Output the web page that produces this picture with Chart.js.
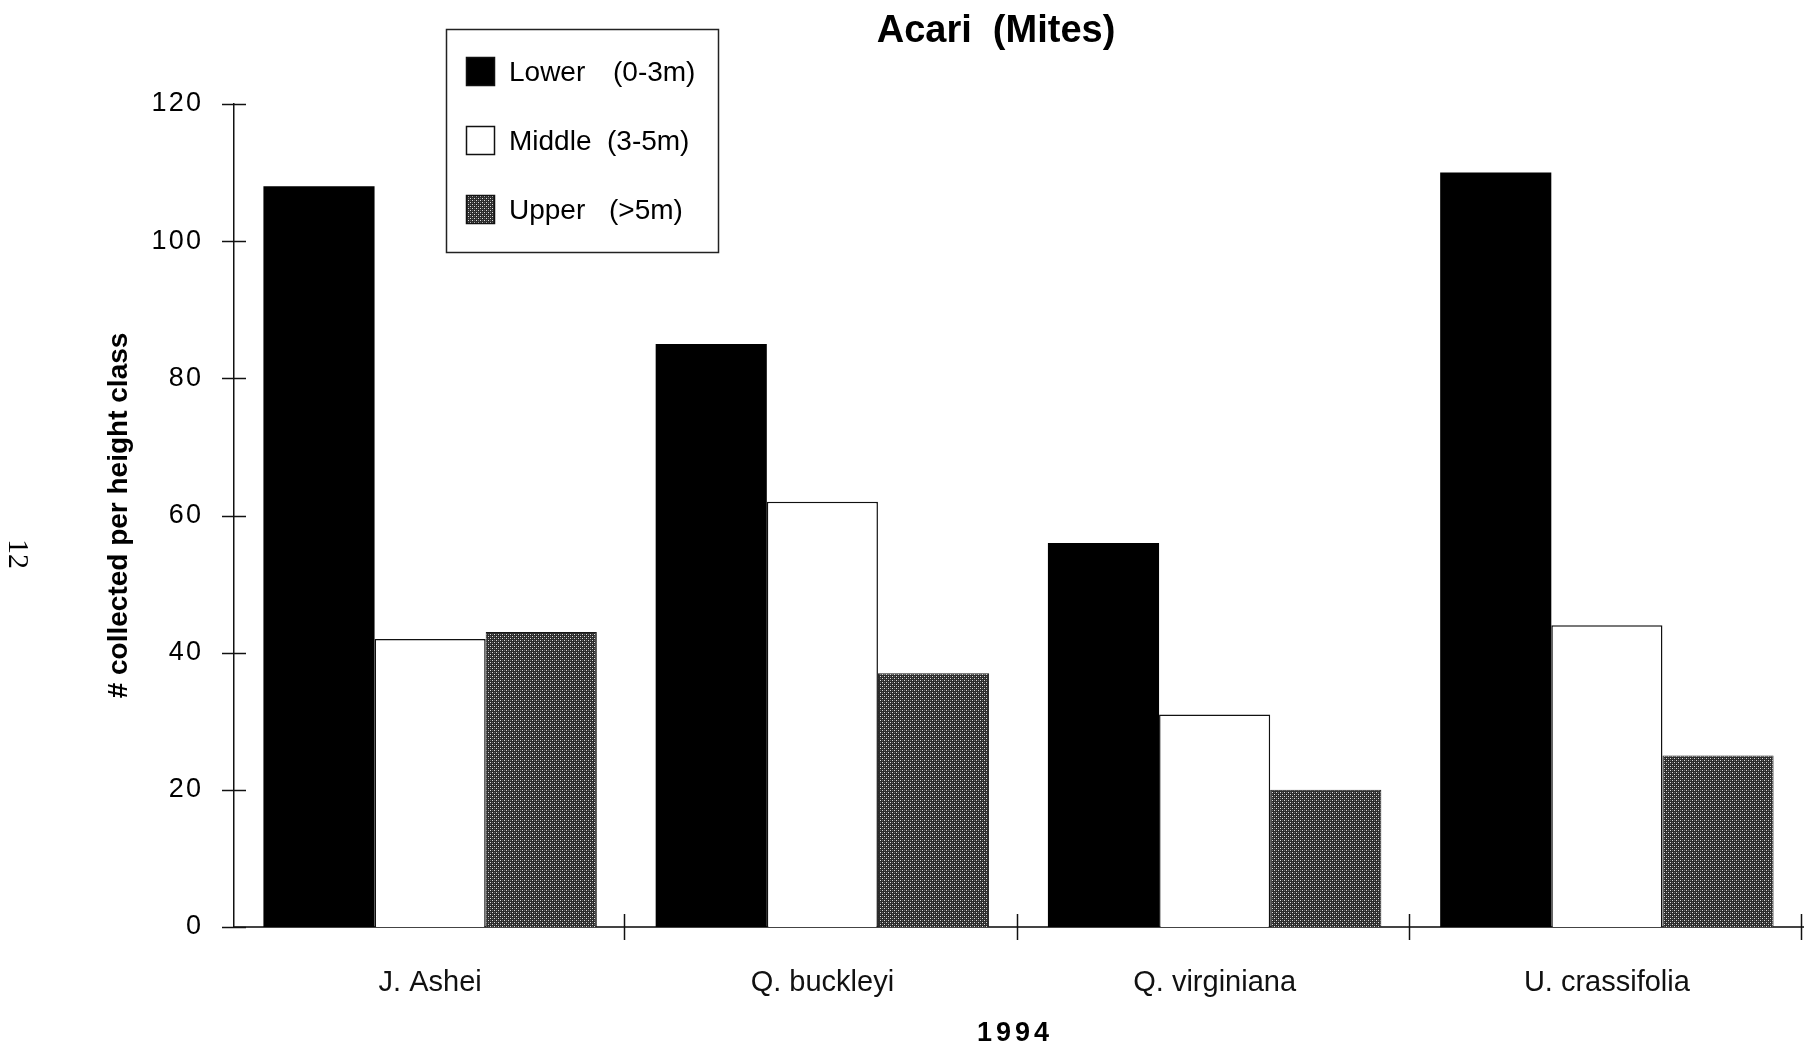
<!DOCTYPE html>
<html>
<head>
<meta charset="utf-8">
<title>Acari (Mites)</title>
<script src="https://cdn.jsdelivr.net/npm/chart.js@4.4.1/dist/chart.umd.min.js"></script>
<style>
  html, body { margin: 0; padding: 0; background: #fff; }
  #wrap { position: relative; width: 1806px; height: 1057px; }
</style>
</head>
<body>
<div id="wrap"><canvas id="chart" width="1806" height="1057"></canvas></div>
<script>
// mites collected per canopy height class, 1994
const species = ['J. Ashei', 'Q. buckleyi', 'Q. virginiana', 'U. crassifolia'];
const seriesNames = ['Lower', 'Middle', 'Upper'];
const seriesRanges = ['(0-3m)', '(3-5m)', '(>5m)'];
const lowerCounts = [108, 85, 56, 110];
const middleCounts = [42, 62, 31, 44];
const upperCounts = [43, 37, 20, 25];
const yTicks = [0, 20, 40, 60, 80, 100, 120];

const chartTitle = 'Acari  (Mites)';
const yTitle = '# collected per height class';
const xTitle = '1994';
const pageNumber = '12';

const SANS = '"Liberation Sans", Arial, Helvetica, sans-serif';

// dotted grey fill used for the upper class
function stipple() {
  const tile = document.createElement('canvas');
  tile.width = 4;
  tile.height = 4;
  const t = tile.getContext('2d');
  t.fillStyle = '#2c2c2c';
  t.fillRect(0, 0, 4, 4);
  t.fillStyle = '#dedede';
  t.fillRect(0, 0, 1, 1);
  t.fillRect(2, 2, 1, 1);
  t.fillStyle = '#6a6a6a';
  t.fillRect(2, 0, 1, 1);
  t.fillRect(0, 2, 1, 1);
  return t.createPattern(tile, 'repeat');
}

const fills = ['#000000', '#ffffff', stipple()];

const decorations = {
  id: 'decorations',
  afterDraw(chart) {
    const ctx = chart.ctx;
    const ca = chart.chartArea;
    const ys = chart.scales.y;
    ctx.save();

    // ticks crossing both axes
    ctx.strokeStyle = '#111';
    ctx.lineWidth = 1.5;
    yTicks.forEach((v) => {
      const y = Math.round(ys.getPixelForValue(v)) + 0.5;
      ctx.beginPath();
      ctx.moveTo(ca.left - 12, y);
      ctx.lineTo(ca.left + 12, y);
      ctx.stroke();
    });
    const n = species.length;
    for (let i = 1; i <= n; i++) {
      const x = Math.round(ca.left + (i * ca.width) / n) - 1.5;
      ctx.beginPath();
      ctx.moveTo(x, ca.bottom - 13);
      ctx.lineTo(x, ca.bottom + 13);
      ctx.stroke();
    }

    // title
    ctx.fillStyle = '#000';
    ctx.textAlign = 'center';
    ctx.textBaseline = 'middle';
    ctx.font = 'bold 38px ' + SANS;
    ctx.fillText(chartTitle, 996, 32);

    // x axis title
    ctx.font = 'bold 27px ' + SANS;
    ctx.letterSpacing = '4px';
    ctx.fillText(xTitle, 1015, 1034);
    ctx.letterSpacing = '0px';

    // y axis title
    ctx.save();
    ctx.translate(119, (ca.top + ca.bottom) / 2);
    ctx.rotate(-Math.PI / 2);
    ctx.font = 'bold 28px ' + SANS;
    ctx.fillText(yTitle, 0, 0);
    ctx.restore();

    // page number along the left margin
    ctx.save();
    ctx.translate(17, 554);
    ctx.rotate(Math.PI / 2);
    ctx.font = '30px "Liberation Serif", "DejaVu Serif", serif';
    ctx.fillText(pageNumber, 0, 0);
    ctx.restore();

    // legend box
    const bx = 446, by = 29, bw = 272, bh = 223;
    ctx.lineWidth = 1.5;
    ctx.strokeStyle = '#222';
    ctx.fillStyle = '#fff';
    ctx.fillRect(bx, by, bw, bh);
    ctx.strokeRect(bx + 0.5, by + 0.5, bw, bh);

    const rows = [71, 140, 209];
    ctx.textAlign = 'left';
    ctx.font = '28px ' + SANS;
    chart.data.datasets.forEach((ds, i) => {
      const cy = rows[i];
      ctx.fillStyle = ds.backgroundColor;
      ctx.fillRect(466, cy - 14, 29, 29);
      ctx.strokeStyle = '#111';
      ctx.lineWidth = 1.5;
      ctx.strokeRect(466.5, cy - 13.5, 28, 28);
      ctx.fillStyle = '#000';
      ctx.fillText(seriesNames[i], 509, cy + 2);
      ctx.fillText(seriesRanges[i], [613, 607, 609][i], cy + 2);
    });

    ctx.restore();
  },
};

new Chart(document.getElementById('chart'), {
  type: 'bar',
  data: {
    labels: species,
    datasets: [
      { label: seriesNames[0], data: lowerCounts, backgroundColor: fills[0], borderColor: '#000', borderWidth: 0 },
      { label: seriesNames[1], data: middleCounts, backgroundColor: fills[1], borderColor: '#111', borderWidth: 1.5 },
      { label: seriesNames[2], data: upperCounts, backgroundColor: fills[2], borderColor: '#1a1a1a', borderWidth: 1 },
    ],
  },
  options: {
    responsive: false,
    animation: false,
    events: [],
    layout: { padding: { top: 104, right: 3, bottom: 0, left: 0 } },
    datasets: {
      bar: { categoryPercentage: 0.85, barPercentage: 1.0, borderSkipped: 'bottom' },
    },
    plugins: {
      legend: { display: false },
      title: { display: false },
      tooltip: { enabled: false },
    },
    scales: {
      x: {
        grid: { display: false, drawTicks: false },
        border: { display: true, color: '#444', width: 2 },
        ticks: {
          color: '#111',
          padding: 39,
          font: { family: SANS, size: 29 },
          maxRotation: 0,
        },
        afterFit(scale) { scale.height = 130; },
      },
      y: {
        min: 0,
        max: 120,
        grid: { display: false, drawTicks: false },
        border: { display: true, color: '#111', width: 1.5 },
        afterBuildTicks(scale) { scale.ticks = yTicks.map((v) => ({ value: v })); },
        ticks: {
          color: '#000',
          padding: 33,
          font: { family: SANS, size: 27 },
          callback: (v) => String(v).split('').join('\u200a'),
        },
        afterFit(scale) { scale.width = 234; },
      },
    },
  },
  plugins: [decorations],
});
</script>
</body>
</html>
